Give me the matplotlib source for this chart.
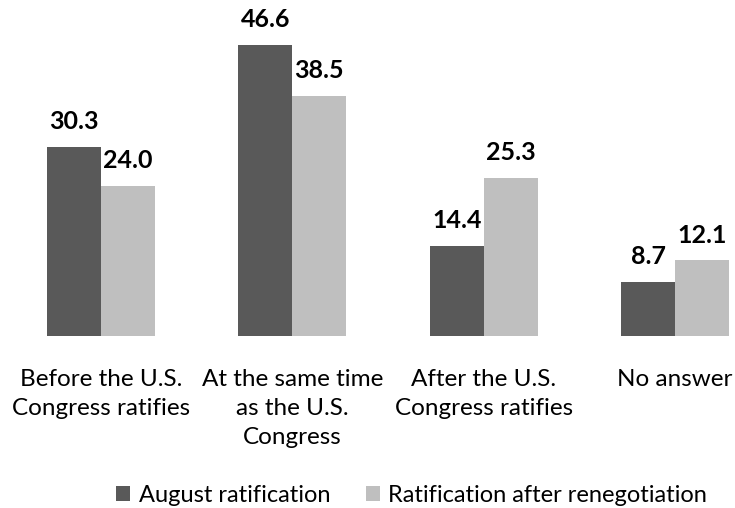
import matplotlib
matplotlib.use("Agg")
import matplotlib.pyplot as plt
import numpy as np

categories = ["Before the U.S.\nCongress ratifies", "At the same time\nas the U.S.\nCongress",
              "After the U.S.\nCongress ratifies", "No answer"]
august = [30.3, 46.6, 14.4, 8.7]
renegotiation = [24.0, 38.5, 25.3, 12.1]
series_names = ["August ratification", "Ratification after renegotiation"]
colors = ["#595959", "#BFBFBF"]

plt.rcParams['font.family'] = ['Lato', 'DejaVu Sans']

W, H = 735, 508
fig = plt.figure(figsize=(W/100, H/100), dpi=100)
base_px = 336
ax = fig.add_axes([0, (H - base_px)/H, 1, base_px/H])

x = np.arange(len(categories))
bw = 0.282
b1 = ax.bar(x - bw/2, august, bw, color=colors[0], label=series_names[0])
b2 = ax.bar(x + bw/2, renegotiation, bw, color=colors[1], label=series_names[1])

for bars, vals in ((b1, august), (b2, renegotiation)):
    for r, v in zip(bars, vals):
        ax.annotate(f"{v:.1f}", (r.get_x() + r.get_width()/2, v), xytext=(0, 10),
                    textcoords="offset points", ha="center", va="bottom",
                    fontsize=18, fontweight="bold", color="#000000")

gsp = 191.33
ax.set_xlim(-101/gsp, (W - 101)/gsp)
ax.set_ylim(0, base_px/6.245)
ax.axis("off")

for xi, c in zip(x, categories):
    ax.annotate(c, (xi, 0), xytext=(0, -24), textcoords="offset points",
                ha="center", va="top", fontsize=17.5, color="#000000",
                linespacing=1.45)

fig.legend(handles=[b1, b2], loc="center", bbox_to_anchor=(0.56, 0.025), ncol=2,
           frameon=False, fontsize=17, handlelength=0.6, handleheight=0.6,
           handletextpad=0.35, columnspacing=1.5, borderpad=0, borderaxespad=0)

fig.savefig("out.png", dpi=100)
